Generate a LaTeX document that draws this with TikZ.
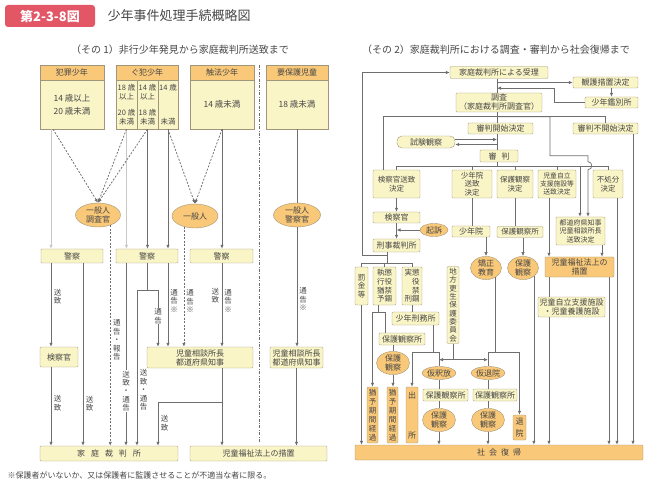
\documentclass[tikz,border=0pt]{standalone}
\usepackage{fontspec}
\setmainfont{Noto Sans CJK JP}
\usetikzlibrary{shapes.geometric, arrows.meta, positioning}

\definecolor{boxyel}{RGB}{250,245,198}
\definecolor{boxorg}{RGB}{249,200,120}
\definecolor{edgegray}{RGB}{160,150,122}
\definecolor{linegray}{RGB}{110,110,110}
\definecolor{litegray}{RGB}{200,200,200}
\definecolor{titlered}{RGB}{226,86,102}
\definecolor{inkgray}{RGB}{70,70,70}

\tikzset{
    box/.style={draw=edgegray, fill=boxyel, rounded corners=1.2pt, inner sep=0pt, align=center, text=inkgray, font=\fontsize{8}{9}\selectfont}, % yellow box
    obox/.style={box, fill=boxorg}, % orange box
    head/.style={box, fill=boxorg, rounded corners=0pt},
    body/.style={box, rounded corners=0pt, font=\fontsize{8.5}{10}\selectfont},
    oval/.style={ellipse, draw=edgegray, fill=boxorg, inner sep=0pt, align=center, text=inkgray, font=\fontsize{8}{9}\selectfont},
    wh/.style 2 args={minimum width=#1pt, minimum height=#2pt},
    vtext/.style={font=\fontsize{7.5}{8.6}\selectfont},
    flow/.style={draw=linegray, line width=0.75pt},
    link/.style={flow, -{Latex[length=4pt, width=3.4pt]}},
    dlink/.style={link, dash pattern=on 2pt off 1.5pt},
    lite/.style={link, draw=litegray},
    vlabel/.style={align=center, inner sep=0.6pt, text=inkgray, font=\fontsize{7.5}{8.4}\selectfont},
    divider/.style={draw=linegray, line width=0.6pt, dash pattern=on 3pt off 1.5pt on 0.8pt off 1.5pt},
}

\begin{document}
\begin{tikzpicture}[x=1pt, y=-1pt]
    \useasboundingbox (0,0) rectangle (646,484);

    % title
    \node[fill=titlered, rounded corners=3pt, text=white, font=\bfseries\fontsize{13}{15}\selectfont, wh={90}{22}] (figno) at (50,16) {第2-3-8図};
    \node[anchor=west, text=inkgray, font=\fontsize{13}{15}\selectfont] (figtitle) at (104,16) {少年事件処理手続概略図};
    \node[text=inkgray, font=\fontsize{10}{12}\selectfont] (part1) at (180,50) {（その 1）非行少年発見から家庭裁判所送致まで};
    \node[text=inkgray, font=\fontsize{10}{12}\selectfont] (part2) at (496,50) {（その 2）家庭裁判所における調査・審判から社会復帰まで};
    \node[anchor=west, text=inkgray, font=\fontsize{8}{9}\selectfont] (footnote) at (4,475) {※保護者がいないか、又は保護者に監護させることが不適当な者に限る。};

    % ---- (その1) ----
    \node[head, wh={64}{15}] (hanzaiH) at (72,72.5) {犯罪少年};
    \node[body, wh={64}{49}] (hanzai) at (72,104.5) {14 歳以上\\[3pt]20 歳未満};
    \node[head, wh={62}{15}] (guhanH) at (147,72.5) {ぐ犯少年};
    \node[body, vtext, wh={21}{49}] (guhanA) at (126.5,104.5) {18 歳\\以上\\[8pt]20 歳\\未満};
    \node[body, vtext, wh={21}{49}] (guhanB) at (147.5,104.5) {14 歳\\以上\\[8pt]18 歳\\未満};
    \node[body, vtext, wh={20}{49}] (guhanC) at (168,104.5) {14 歳\\[26pt]未満};
    \node[head, wh={64}{15}] (shokuhoH) at (222,72.5) {触法少年};
    \node[body, wh={64}{49}] (shokuho) at (222,104.5) {14 歳未満};
    \node[head, wh={62}{15}] (yohogoH) at (297,72.5) {要保護児童};
    \node[body, wh={62}{49}] (yohogo) at (297,104.5) {18 歳未満};

    \node[oval, wh={45}{24}] (ippanA) at (98,215) {一般人\\調査官};
    \node[oval, wh={46}{24}] (ippanB) at (195,216) {一般人};
    \node[oval, wh={47}{24}] (ippanC) at (297,215) {一般人\\警察官};

    \node[box, wh={62}{14}] (keisatsuA) at (72,256) {警察};
    \node[box, wh={62}{14}] (keisatsuB) at (147,256) {警察};
    \node[box, wh={63}{14}] (keisatsuC) at (221.5,256) {警察};

    \node[box, wh={38}{20}] (kensatsuL) at (59,357) {検察官};
    \node[box, wh={106}{21}] (jisoA) at (200,357.5) {児童相談所長\\都道府県知事};
    \node[box, wh={53}{21}] (jisoB) at (296.5,357.5) {児童相談所長\\都道府県知事};

    \node[box, wh={138}{15}] (katei) at (109,453.5) {家\hspace{6pt}庭\hspace{6pt}裁\hspace{6pt}判\hspace{6pt}所};
    \node[box, wh={137}{15}] (fukushiL) at (258.5,453.5) {児童福祉法上の措置};

    \draw[divider] (259,65) -- (259,442);

    \draw[lite] (51,0 |- hanzai.south) -- (51,0 |- keisatsuA.north);
    \draw[lite] (guhanA.south) -- (guhanA.south |- keisatsuB.north);
    \draw[link] (guhanB.south) -- (guhanB.south |- keisatsuB.north);
    \draw[link] (guhanC.south) -- (guhanC.south |- keisatsuB.north);
    \draw[link] (shokuho.south) -- (shokuho.south |- keisatsuC.north);
    \draw[dlink] (53,0 |- hanzai.south) -- (ippanA.north);
    \draw[dlink] (guhanA.south) -- (ippanA.north);
    \draw[dlink] (guhanB.south) -- (ippanA.north);
    \draw[dlink] (guhanC.south) -- (ippanB.north);
    \draw[dlink] (shokuho.south) -- (ippanB.north);
    \draw[flow] (yohogo.south) -- (ippanC.north);
    \draw[link] (ippanC.south) -- node[vlabel, right=1.5pt, pos=0.6] {通\\告\\※} (ippanC.south |- jisoB.north);

    \draw[link] (51,0 |- keisatsuA.south) -- node[vlabel, right=2pt, pos=0.4] {送\\致} (51,0 |- kensatsuL.north);
    \draw[link] (51,0 |- kensatsuL.south) -- node[vlabel, right=2pt, pos=0.46] {送\\致} (51,0 |- katei.north);
    \draw[link] (83,0 |- keisatsuA.south) -- node[vlabel, right=2pt, pos=0.77] {送\\致} (83,0 |- katei.north);
    \draw[dlink] (ippanA.-40) -- node[vlabel, right=2pt, pos=0.52] {通\\告\\・\\報\\告} (ippanA.-40 |- katei.north);
    \draw[link] (126,0 |- keisatsuB.south) -- node[vlabel, fill=white, pos=0.7] {送\\致\\・\\通\\告} (126,0 |- katei.north);
    \draw[flow] (keisatsuB.south) -- ++(0,27) coordinate (splitB);
    \draw[link] (splitB) -| node[vlabel, right=2pt, pos=0.82] {送\\致\\・\\通\\告} (137,0 |- katei.north);
    \draw[link] (splitB) -| node[vlabel, fill=white, pos=0.73] {通\\告} (158,0 |- jisoA.north);
    \draw[link] (168,0 |- keisatsuB.south) -- node[vlabel, right=1.5pt, pos=0.45] {通\\告\\※} (168,0 |- jisoA.north);
    \draw[dlink] (ippanB.-136) -- node[vlabel, right=1.5pt, pos=0.62] {通\\告\\※} (ippanB.-136 |- jisoA.north);
    \draw[link] (222,0 |- keisatsuC.south) -- node[vlabel, left=2pt, pos=0.39] {送\\致} node[vlabel, right=1.5pt, pos=0.45] {通\\告\\※} (222,0 |- jisoA.north);
    \draw[link] (222,0 |- jisoA.south) -- (222,0 |- fukushiL.north);
    \coordinate (sochiJ) at (222,402);
    \draw[link] (sochiJ) -| node[vlabel, right=2pt, pos=0.74] {送\\致} (158,0 |- katei.north);
    \draw[link] (jisoB.south) -- (jisoB.south |- fukushiL.north);

    % ---- (その2) ----
    \node[box, wh={98}{12}] (juri) at (499,72.5) {家庭裁判所による受理};
    \node[box, wh={86}{19}] (chosa) at (499,102.5) {調査\\（家庭裁判所調査官）};
    \node[box, wh={65}{11}] (kango) at (605.5,82.5) {観護措置決定};
    \node[box, wh={53}{11}] (kanbetsu) at (611.5,102.5) {少年鑑別所};
    \node[box, wh={65}{11}] (kaishi) at (500.5,128.5) {審判開始決定};
    \node[box, wh={65}{11}] (fukaishi) at (605.5,128.5) {審判不開始決定};
    \node[box, rounded corners=5pt, wh={58}{12}] (shiken) at (426,142) {試験観察};
    \node[box, wh={38}{12}] (shinpan) at (499,156) {審\hspace{5pt}判};

    \node[box, vtext, wh={47}{28}] (kenso) at (396.5,184) {検察官送致\\決定};
    \node[box, vtext, wh={40}{28}] (inso) at (472,184) {少年院\\送致\\決定};
    \node[box, vtext, wh={36}{28}] (hogokettei) at (515,184) {保護観察\\決定};
    \node[box, font=\fontsize{6.8}{8.4}\selectfont, wh={38}{28}] (jiritsu) at (557,184) {児童自立\\支援施設等\\送致決定};
    \node[box, vtext, wh={30}{28}] (fushobun) at (608,184) {不処分\\決定};

    \node[box, wh={47}{11}] (kensatsuR) at (396.5,217.5) {検察官};
    \node[oval, wh={28}{13}] (kiso) at (434,230) {起訴};
    \node[box, wh={47}{13}] (keiji) at (396.5,245.5) {刑事裁判所};
    \node[box, wh={38}{11}] (shonenin) at (471,231.5) {少年院};
    \node[box, vtext, wh={46}{11}] (hogoshoM) at (520,232) {保護観察所};
    \node[box, font=\fontsize{7}{8.6}\selectfont, wh={49}{28}] (todofuken) at (580.5,231) {都道府県知事\\児童相談所長\\送致決定};
    \node[oval, wh={31}{22}] (kyosei) at (486,268) {矯正\\教育};
    \node[oval, wh={31}{21}] (hogoM) at (523,268) {保護\\観察};
    \node[obox, wh={69}{20}] (fukushiR) at (579.5,267) {児童福祉法上の\\措置};
    \node[box, wh={67}{20}] (jiritsushisetsu) at (571.5,307) {児童自立支援施設\\・児童養護施設};

    \node[box, vtext, wh={13}{38}] (bakkin) at (361.5,286) {罰\\金\\等};
    \node[box, vtext, wh={23}{38}] (shikko) at (384.5,286) {執懲\\行役\\猶禁\\予錮};
    \node[box, vtext, wh={20}{38}] (jikkei) at (412,286) {実懲\\　役\\　禁\\刑錮};
    \node[box, font=\fontsize{7.5}{8.3}\selectfont, wh={12}{77}] (chiho) at (453,305) {地\\方\\更\\生\\保\\護\\委\\員\\会};
    \node[box, wh={47}{13}] (keimusho) at (415.5,318.5) {少年刑務所};
    \node[box, wh={46}{12}] (hogoshoL) at (402,339) {保護観察所};
    \node[oval, wh={33}{21}] (hogoL) at (393,363) {保護\\観察};
    \node[obox, font=\fontsize{7.5}{9}\selectfont, wh={11}{56}] (yuyo1) at (372.5,415) {猶\\予\\期\\間\\経\\過};
    \node[obox, font=\fontsize{7.5}{9}\selectfont, wh={11}{56}] (yuyo2) at (392.5,415) {猶\\予\\期\\間\\経\\過};
    \node[obox, wh={12}{56}] (shussho) at (412,415) {出\\[31pt]所};
    \node[oval, wh={33}{13}] (karishaku) at (439,373) {仮釈放};
    \node[box, wh={45}{12}] (hogoshoK) at (445.5,395) {保護観察所};
    \node[oval, wh={33}{23}] (hogoK) at (439,420) {保護\\観察};
    \node[oval, wh={32}{13}] (karitai) at (488,373) {仮退院};
    \node[box, wh={44}{12}] (hogoshoT) at (495,395) {保護観察所};
    \node[oval, wh={33}{23}] (hogoT) at (488,420) {保護\\観察};
    \node[obox, wh={13}{25}] (taiin) at (519.5,427.5) {退\\[3pt]院};
    \node[obox, wh={288}{15}] (fukki) at (499,452.5) {社\hspace{4pt}会\hspace{4pt}復\hspace{4pt}帰};

    % spine
    \draw[flow] (497,0 |- juri.south) -- (497,0 |- chosa.north);
    \draw[link] (497,0 |- kango.west) -- (kango.west);
    \draw[link] (kanbetsu.north |- kango.south) -- (kanbetsu.north);
    \draw[link] (kanbetsu.west) -- ++(-30,0) |- (497,0 |- kango.south);
    \draw[flow] (497,0 |- chosa.south) -- ++(0,4.5) coordinate (chosaJ);
    \draw[flow] (chosaJ) -- (497,0 |- kaishi.north);
    \draw[flow] (chosaJ) -| (383,0 |- kenso.north);
    \draw[flow] (chosaJ) -| (fukaishi.north);
    \draw[link] (chosaJ) -| ++(53,39) -- ++(38,0) -- ++(0,6) to[out=0, in=0, looseness=1.6] ++(0,8) -- (588,0 |- todofuken.north);
    \draw[link] ([yshift=2.5pt]shiken.east) -- ++(42,0);
    \draw[link] ([yshift=-2.5pt]shiken.east) ++(42,0) -- ([yshift=-2.5pt]shiken.east);
    \draw[flow] (497,0 |- kaishi.south) -- (497,0 |- shinpan.north);
    \draw[flow] (497,0 |- shinpan.south) -- ++(0,4) coordinate (shinpanJ);
    \draw[flow] (shinpanJ) -| (kenso.north);
    \draw[flow] (shinpanJ) -| (inso.north);
    \draw[flow] (shinpanJ) -| (hogokettei.north);
    \draw[flow] (shinpanJ) -| (jiritsu.north);
    \draw[link] (shinpanJ) -| (580,0 |- todofuken.north);
    \draw[flow] (shinpanJ) -| (fushobun.north);

    % criminal court branch
    \draw[link] (kenso.south) -- (kensatsuR.north);
    \draw[link] (kiso.west) -- (kensatsuR.south |- kiso.west);
    \draw[link] (kensatsuR.south) -- (keiji.north);
    \draw[flow] (387,0 |- keiji.south) -- ++(0,11) coordinate (keijiJ);
    \draw[link] (387,0 |- keiji.south) ++(0,3) -| (362,0 |- juri.west) -- (juri.west);
    \draw[flow] (keijiJ) -| (bakkin.north);
    \draw[flow] (keijiJ) -| (shikko.north);
    \draw[flow] (keijiJ) -| (jikkei.north);
    \draw[link] (bakkin.south) -- (bakkin.south |- fukki.north);
    \draw[flow] (378,0 |- shikko.south) -- ++(0,7) coordinate (shikkoJ);
    \draw[link] (shikkoJ) -| (yuyo1.north);
    \draw[flow] (shikkoJ) -| (385,0 |- hogoshoL.north);
    \draw[flow] (393,0 |- hogoshoL.south) -- (hogoL.north);
    \draw[link] (hogoL.south) -- (hogoL.south |- yuyo2.north);
    \draw[flow] (jikkei.south) -- (jikkei.south |- keimusho.north);
    \draw[flow] (433,0 |- keimusho.south) -- ++(0,27) coordinate (keimushoJ);
    \draw[link] (keimushoJ) -| (shussho.north);
    \draw[flow] (keimushoJ) -| (karishaku.north);
    \draw[flow] (karishaku.south) -- (karishaku.south |- hogoshoK.north);
    \draw[flow] (karishaku.south |- hogoshoK.south) -- (hogoK.north);
    \draw[link] (hogoK.south) -- (hogoK.south |- fukki.north);
    \draw[flow] (chiho.south) -- ++(0,16) coordinate (chihoJ);
    \draw[link] (chihoJ) -- (karishaku.north |- chihoJ);
    \draw[link] (chihoJ) -- (karitai.north |- chihoJ);

    % juvenile training school branch
    \draw[flow] (inso.south) -- (inso.south |- shonenin.north);
    \draw[link] (486,0 |- shonenin.south) -- (kyosei.north);
    \draw[flow] (kyosei.-45) -- (kyosei.-45 |- keimushoJ) coordinate (kyoseiJ);
    \draw[flow] (kyoseiJ) -| (karitai.north);
    \draw[link] (kyoseiJ) -| (taiin.north);
    \draw[flow] (karitai.south) -- (karitai.south |- hogoshoT.north);
    \draw[flow] (karitai.south |- hogoshoT.south) -- (hogoT.north);
    \draw[link] (hogoT.south) -- (hogoT.south |- fukki.north);

    % probation and welfare branches
    \draw[flow] (515,0 |- hogokettei.south) -- (515,0 |- hogoshoM.north);
    \draw[link] (523,0 |- hogoshoM.south) -- (hogoM.north);
    \draw[link] (hogoM.-38) -- (hogoM.-38 |- fukki.north);
    \draw[link] (549,0 |- jiritsu.south) -- (549,0 |- fukushiR.north);
    \draw[link] (602,0 |- todofuken.south) -- (602,0 |- fukushiR.north);
    \draw[flow] (549,0 |- fukushiR.south) -- (549,0 |- jiritsushisetsu.north);
    \draw[link] (549,0 |- jiritsushisetsu.south) -- (549,0 |- fukki.north);
    \draw[link] (609,0 |- fukushiR.south) -- (609,0 |- fukki.north);
    \draw[link] (617,0 |- fushobun.south) -- (617,0 |- fukki.north);
    \draw[link] (633,0 |- fukaishi.south) -- (633,0 |- fukki.north);
\end{tikzpicture}
\end{document}
